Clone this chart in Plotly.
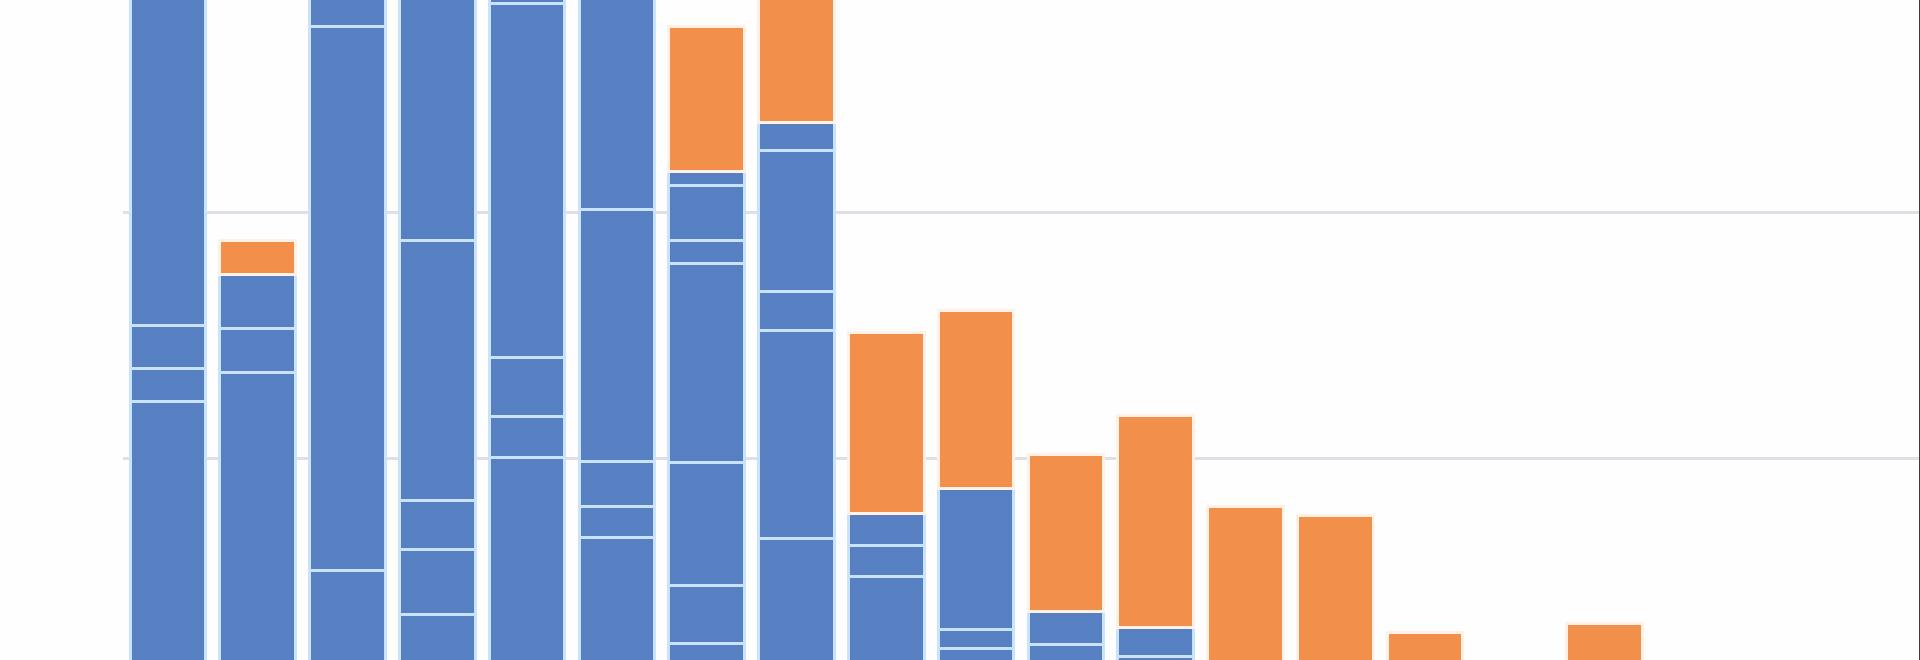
import plotly.graph_objects as go

# 20 histogram slots, stacked: several blue layers then one orange layer on top
categories = [str(i) for i in range(1, 21)]
N = None

blue_1 = [12.28, 13.48, 5.41, 3.66, 10.02, 6.75, 2.48, 6.71, 5.18, 2.24, 2.44, 1.93, N, N, N, N, N, N, N, N]
blue_2 = [1.38, 1.80, 22.15, 2.64, 1.65, 1.30, 2.32, 8.49, 1.28, 0.77, 1.34, 1.20, N, N, N, N, N, N, N, N]
blue_3 = [1.71, 2.20, 2.44, 1.99, 2.40, 1.79, 5.00, 1.59, 1.28, 5.77, N, N, N, N, N, N, N, N, N, N]
blue_4 = [14.13, N, N, 10.57, 14.39, 10.28, 8.09, 5.70, N, N, N, N, N, N, N, N, N, N, N, N]
blue_5 = [N, N, N, 11.14, 1.00, 9.88, 0.97, 1.17, N, N, N, N, N, N, N, N, N, N, N, N]
blue_6 = [N, N, N, N, N, N, 2.20, N, N, N, N, N, N, N, N, N, N, N, N, N]
blue_7 = [N, N, N, N, N, N, 0.57, N, N, N, N, N, N, N, N, N, N, N, N, N]
orange = [N, 1.38, N, N, N, N, 5.93, 6.34, 7.36, 7.20, 6.38, 8.58, 8.05, 7.66, 2.89, 0, 3.29, 0, 0, 0]

BLUE = "#5680c1"
ORANGE = "#f28f4b"

fig = go.Figure()
for layer in [blue_1, blue_2, blue_3, blue_4, blue_5, blue_6, blue_7]:
    fig.add_trace(go.Bar(x=categories, y=layer, marker_color=BLUE,
        marker_line=dict(color="#c9e3fb", width=3)))
fig.add_trace(go.Bar(x=categories, y=orange, marker_color=ORANGE,
    marker_line=dict(color="#fff1e6", width=3)))

fig.update_layout(width=1920, height=660, barmode="stack", bargap=0.16,
    showlegend=False, plot_bgcolor="#fefefe", paper_bgcolor="#fefefe",
    margin=dict(l=123, r=1, t=0, b=0, pad=0))
fig.update_xaxes(showticklabels=False, showgrid=False, zeroline=False, ticks="")
fig.update_yaxes(range=[1.79, 28.62], tick0=0, dtick=10, showticklabels=False,
    gridcolor="#dfdfe5", gridwidth=2.5, zeroline=False, side="right",
    showline=True, linecolor="#3c3c3c", linewidth=2)

# drop the default page margin so the figure fills the window exactly
fig.write_html("out.html", config={"displayModeBar": False},
    post_script="document.body.style.margin='0';document.body.style.overflow='hidden';")
